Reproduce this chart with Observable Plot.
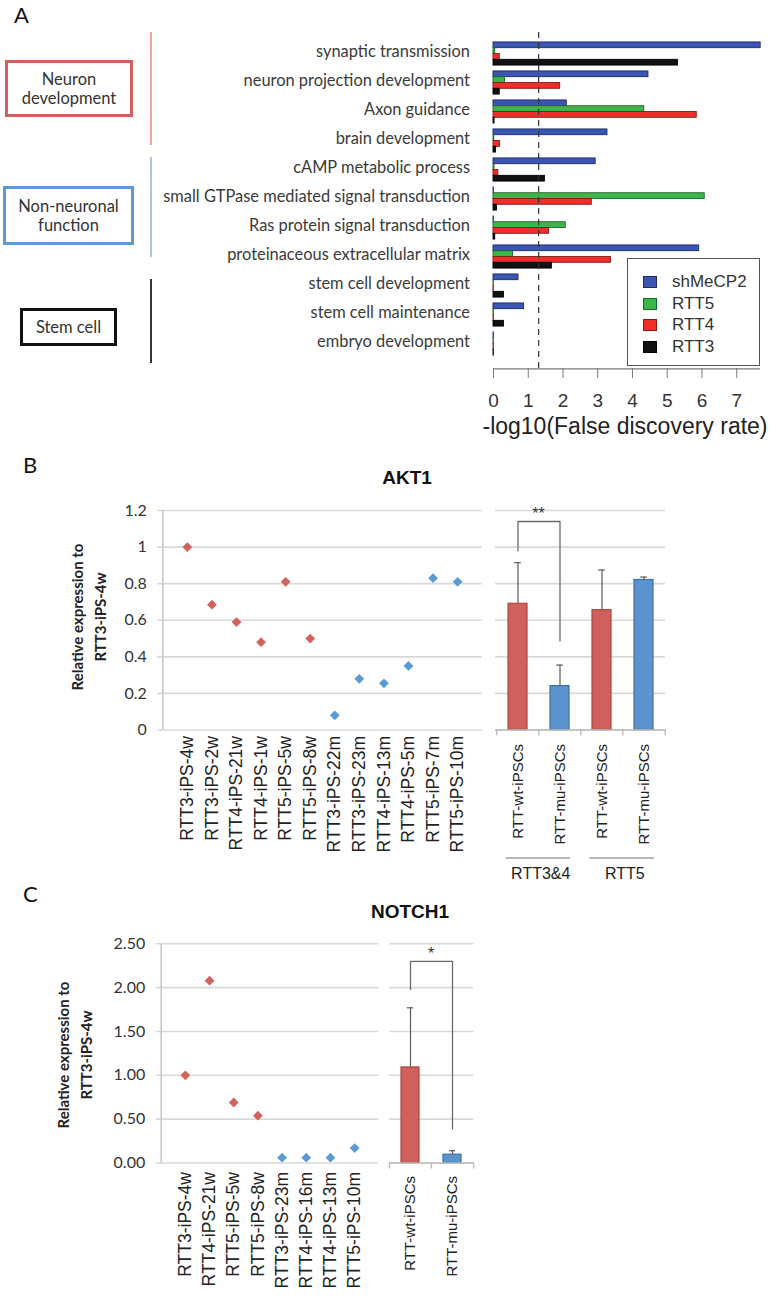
<!DOCTYPE html>
<html>
<head>
<meta charset="utf-8">
<script src="https://cdn.jsdelivr.net/npm/d3@7"></script>
<script src="https://cdn.jsdelivr.net/npm/@observablehq/plot@0.6"></script>
<style>
  html, body { margin: 0; padding: 0; background: white; }
  #root { position: relative; width: 772px; height: 1299px; overflow: hidden; background: white; font-family: Lato, "Open Sans", sans-serif; color: #222; }
  .abs { position: absolute; }
  .box { position: absolute; box-sizing: border-box; display: flex; align-items: center; justify-content: center; text-align: center; font-family: Lato, sans-serif; font-size: 16.5px; line-height: 19px; color: #333; background: white; }
  .vline { position: absolute; width: 2px; }
  .rot { position: absolute; transform: translate(-50%, -50%) rotate(-90deg); white-space: nowrap; text-align: center; font-family: Lato, sans-serif; font-weight: bold; font-size: 15px; line-height: 22.5px; color: #222; }
  .ctr { position: absolute; transform: translate(-50%, -50%); white-space: nowrap; }
</style>
</head>
<body>
<div id="root"></div>
<script>
// ---------------- Panel A data ----------------
const goCategories = [
  "synaptic transmission",
  "neuron projection development",
  "Axon guidance",
  "brain development",
  "cAMP metabolic process",
  "small GTPase mediated signal transduction",
  "Ras protein signal transduction",
  "proteinaceous extracellular matrix",
  "stem cell development",
  "stem cell maintenance",
  "embryo development"
];
const goSeries = ["shMeCP2", "RTT5", "RTT4", "RTT3"];
const shMeCP2 = [7.69, 4.46, 2.11, 3.28, 2.94, 0.01, 0.01, 5.92, 0.72, 0.88, 0.01];
const RTT5    = [0.05, 0.33, 4.34, 0.02, 0.03, 6.08, 2.08, 0.56, 0.01, 0.01, 0.01];
const RTT4    = [0.18, 1.92, 5.85, 0.19, 0.14, 2.83, 1.60, 3.38, 0.01, 0.01, 0.01];
const RTT3    = [5.31, 0.18, 0.03, 0.07, 1.48, 0.10, 0.05, 1.68, 0.30, 0.30, 0.01];
const fdrThreshold = 1.3;
const goTicks = [0, 1, 2, 3, 4, 5, 6, 7];
const seriesFill = ["#3b55b2", "#3cb54a", "#ec2f2a", "#111111"];
const seriesStroke = ["#1c2a6c", "#1b6a29", "#8a1814", "#000000"];

// ---------------- Panel B data ----------------
const akt1Samples = ["RTT3-iPS-4w","RTT3-iPS-2w","RTT4-iPS-21w","RTT4-iPS-1w","RTT5-iPS-5w","RTT5-iPS-8w",
                     "RTT3-iPS-22m","RTT3-iPS-23m","RTT4-iPS-13m","RTT4-iPS-5m","RTT5-iPS-7m","RTT5-iPS-10m"];
const akt1Values  = [1.00, 0.685, 0.59, 0.48, 0.81, 0.50, 0.08, 0.28, 0.255, 0.35, 0.83, 0.81];
const akt1Type    = ["wt","wt","wt","wt","wt","wt","mu","mu","mu","mu","mu","mu"];
const akt1Ticks   = [0, 0.2, 0.4, 0.6, 0.8, 1.0, 1.2];
const akt1BarLabels = ["RTT-wt-iPSCs","RTT-mu-iPSCs","RTT-wt-iPSCs","RTT-mu-iPSCs"];
const akt1BarGroups = ["RTT3&4","RTT3&4","RTT5","RTT5"];
const akt1BarType   = ["wt","mu","wt","mu"];
const akt1BarMeans  = [0.69, 0.24, 0.655, 0.82];
const akt1BarErrors = [0.225, 0.115, 0.22, 0.016];
const akt1Bracket = {left: 0, right: 1, top: 1.14, leftEnd: 0.98, rightEnd: 0.486, stars: "**"};

// ---------------- Panel C data ----------------
const notchSamples = ["RTT3-iPS-4w","RTT4-iPS-21w","RTT5-iPS-5w","RTT5-iPS-8w",
                      "RTT3-iPS-23m","RTT4-iPS-16m","RTT4-iPS-13m","RTT5-iPS-10m"];
const notchValues  = [1.00, 2.08, 0.69, 0.54, 0.06, 0.06, 0.06, 0.17];
const notchType    = ["wt","wt","wt","wt","mu","mu","mu","mu"];
const notchTicks   = [0, 0.5, 1.0, 1.5, 2.0, 2.5];
const notchBarLabels = ["RTT-wt-iPSCs","RTT-mu-iPSCs"];
const notchBarType   = ["wt","mu"];
const notchBarMeans  = [1.09, 0.095];
const notchBarErrors = [0.68, 0.045];
const notchBracket = {left: 0, right: 1, top: 2.30, leftEnd: 1.98, rightEnd: 0.39, stars: "*"};

// ---------------- styles ----------------
const dotColor = {wt: "#d1625d", mu: "#5b9bd5"};
const barFill = {wt: "#d0605b", mu: "#5b93cf"};
const barStroke = {wt: "#a94743", mu: "#3e6fa8"};
const gridColor = "#d9d9d9";
const inkColor = "#5a5a5a";
const arial = "'Liberation Sans', Arial, sans-serif";

const root = document.getElementById("root");
function place(el, left, top) {
  el.style.position = "absolute";
  el.style.left = left + "px";
  el.style.top = top + "px";
  root.appendChild(el);
  return el;
}
function html(str, cls, style) {
  const d = document.createElement("div");
  if (cls) d.className = cls;
  d.innerHTML = str;
  Object.assign(d.style, style || {});
  root.appendChild(d);
  return d;
}
const baseStyle = {background: "transparent", overflow: "visible"};

// ================= Panel A =================
{
  const W = 772, H = 445, mT = 32, mB = 445 - 368, mL = 493, mR = 8;
  const yRange = [38.2, 357.8];
  const step = (yRange[1] - yRange[0]) / goCategories.length;
  const barH = 5.8;
  const pad = (step - goSeries.length * barH) / 2;
  const seriesVals = [shMeCP2, RTT5, RTT4, RTT3];
  const rows = goSeries.map((s, k) => goCategories.map((c, i) => ({category: c, series: s, value: seriesVals[k][i]})));
  const p = Plot.plot({
    width: W, height: H, marginTop: mT, marginBottom: mB, marginLeft: mL, marginRight: mR,
    style: baseStyle,
    x: {domain: [0, 7.8]},
    y: {domain: goCategories, range: yRange, padding: 0},
    marks: [
      ...rows.map((data, k) => Plot.barX(data, {
        x: "value", y: "category",
        fill: seriesFill[k], stroke: seriesStroke[k], strokeWidth: 0.9,
        insetTop: pad + k * barH, insetBottom: step - pad - (k + 1) * barH
      })),
      Plot.ruleX([fdrThreshold], {stroke: "#333", strokeWidth: 1.2, strokeDasharray: "6,5"}),
      Plot.ruleY([0], {y: () => goCategories[goCategories.length - 1], dy: step / 2 + 10.4, stroke: "#7a7a7a", strokeWidth: 1.2, insetRight: 4}),
      Plot.axisX({ticks: goTicks, tickSize: 10, tickPadding: 15, fontSize: 19, fontFamily: arial, stroke: "#7a7a7a", fill: "#333", label: null}),
      Plot.axisY({tickSize: 0, tickPadding: 23.5, fontSize: 16.4, fontFamily: "Lato, sans-serif", fill: "#3a3a3a", dy: -2, label: null})
    ]
  });
  place(p, 0, 0);

  html("-log10(False discovery rate)", "ctr", {left: "625px", top: "426px", fontFamily: arial, fontSize: "23px", color: "#222"});

  // legend
  const lg = html("", "abs", {left: "627px", top: "258px", width: "133px", height: "108px", border: "1px solid #555", boxSizing: "border-box", background: "white"});
  goSeries.forEach((s, k) => {
    const row = document.createElement("div");
    Object.assign(row.style, {position: "absolute", left: "15px", top: (14 + k * 21.7) + "px", height: "18px", display: "flex", alignItems: "center", fontFamily: arial, fontSize: "17px", color: "#333"});
    const sw = document.createElement("span");
    Object.assign(sw.style, {display: "inline-block", width: "12px", height: "10px", background: seriesFill[k], border: "1px solid " + seriesStroke[k], marginRight: "15px"});
    row.appendChild(sw);
    row.appendChild(document.createTextNode(s));
    lg.appendChild(row);
  });

  // group boxes and brackets
  html("A", "abs", {left: "14px", top: "4px", fontFamily: "Lato, sans-serif", fontSize: "22px", lineHeight: "22px", color: "#111"});
  html("Neuron<br>development", "box", {left: "5px", top: "60px", width: "128px", height: "57px", border: "3px solid #d45d5d"});
  html("Non-neuronal<br>function", "box", {left: "3px", top: "186px", width: "131px", height: "59px", border: "3px solid #5b9bd5"});
  html("Stem cell", "box", {left: "20px", top: "308px", width: "97px", height: "38px", border: "3px solid #111"});
  html("", "vline", {left: "150px", top: "32px", height: "113px", background: "#eaa5a5"});
  html("", "vline", {left: "150px", top: "157px", height: "100px", background: "#a8c8e8"});
  html("", "vline", {left: "150px", top: "279px", height: "84px", background: "#333"});
}

// ================= generic scatter + bar builders =================
function scatterPanel({samples, values, types, ticks, fmt, domainMax, width, height, mT, mB, mL, mR, tickPad}) {
  const data = samples.map((s, i) => ({idx: i + 1, name: s, value: values[i], type: types[i]}));
  return Plot.plot({
    width, height, marginTop: mT, marginBottom: mB, marginLeft: mL, marginRight: mR,
    style: baseStyle,
    x: {domain: [0, samples.length + 1]},
    y: {domain: [0, domainMax]},
    marks: [
      Plot.ruleY(ticks, {stroke: gridColor, strokeWidth: 1.6, insetLeft: -5}),
      Plot.ruleX([0], {stroke: "#c8c8c8", strokeWidth: 1.6}),
      Plot.axisY({ticks, tickFormat: fmt, tickSize: 0, tickPadding: 16, fontSize: 16, fontFamily: "Lato, sans-serif", fill: "#333", label: null}),
      Plot.axisX({ticks: data.map(d => d.idx), tickFormat: i => samples[i - 1], tickRotate: -90, tickSize: 0, tickPadding: tickPad, fontSize: 17.5, fontFamily: arial, fill: "#222", label: null}),
      Plot.dot(data, {x: "idx", y: "value", symbol: "diamond2", r: 4.4, fill: d => dotColor[d.type], stroke: null})
    ]
  });
}

function barPanel({labels, groups, types, means, errors, bracket, ticks, domainMax, width, height, mT, mB, mL, mR, pIn, tickPad, groupInfo, left, top}) {
  const keys = labels.map((l, i) => (groups ? groups[i] : "") + "|" + l + "|" + i);
  const data = keys.map((k, i) => ({key: k, type: types[i], mean: means[i], err: errors[i]}));
  const n = keys.length;
  const step = (width - mL - mR) / n;
  const bw = step * (1 - pIn);
  const tickDown = -domainMax * 6 / (height - mT - mB); // 6px outward tick, in data units
  const bk = [
    {x: keys[bracket.left], y: bracket.leftEnd},
    {x: keys[bracket.left], y: bracket.top},
    {x: keys[bracket.right], y: bracket.top},
    {x: keys[bracket.right], y: bracket.rightEnd}
  ];
  const bounds = keys.map(k => ({key: k, side: -1})).concat([{key: keys[n - 1], side: 1}]);
  const marks = [
    Plot.ruleY(ticks, {stroke: gridColor, strokeWidth: 1.6}),
    Plot.ruleX(data, {x: "key", y1: "mean", y2: d => d.mean + d.err, stroke: inkColor, strokeWidth: 1.2}),
    Plot.tickY(data, {x: "key", y: d => d.mean + d.err, stroke: inkColor, strokeWidth: 1.2, inset: bw / 2 - 3.3}),
    Plot.barY(data, {x: "key", y: "mean", fill: d => barFill[d.type], stroke: d => barStroke[d.type], strokeWidth: 1.2}),
    Plot.line(bk, {x: "x", y: "y", stroke: "#6a6a6a", strokeWidth: 1.3}),
    Plot.ruleY([0], {stroke: "#bdbdbd", strokeWidth: 1.6}),
    Plot.ruleX(bounds.filter(b => b.side < 0), {x: "key", y1: () => 0, y2: () => tickDown, dx: -step / 2, stroke: "#bdbdbd", strokeWidth: 1.4}),
    Plot.ruleX(bounds.filter(b => b.side > 0), {x: "key", y1: () => 0, y2: () => tickDown, dx: step / 2, stroke: "#bdbdbd", strokeWidth: 1.4}),
    Plot.axisX({tickFormat: k => k.split("|")[1], tickRotate: -90, tickSize: 0, tickPadding: tickPad, fontSize: 15, fontFamily: arial, fill: "#222", label: null})
  ];
  if (groupInfo) {
    const gNames = Array.from(new Set(groups));
    const gs = gNames.map(g => ({name: g, first: keys[groups.indexOf(g)], last: keys[groups.lastIndexOf(g)], base: 0}));
    marks.push(
      Plot.ruleY(gs, {y: "base", x1: "first", x2: "last", dy: groupInfo.lineDy, insetLeft: -2.5, insetRight: -1, stroke: "#a0a0a0", strokeWidth: 1.6}),
      Plot.text(gs, {x: "first", y: "base", text: "name", dx: step / 2 + 1.5, dy: groupInfo.textDy, fontSize: 16, fontFamily: arial, fill: "#222"})
    );
  }
  const p = Plot.plot({
    width, height, marginTop: mT, marginBottom: mB, marginLeft: mL, marginRight: mR,
    style: baseStyle,
    x: {domain: keys, paddingInner: pIn, paddingOuter: pIn / 2},
    y: {domain: [0, domainMax], axis: null},
    marks
  });
  place(p, left, top);
  // significance stars, positioned through the plot's own scales
  const xs = p.scale("x"), ys = p.scale("y");
  const sx = left + (xs.apply(keys[bracket.left]) + xs.apply(keys[bracket.right])) / 2 + xs.bandwidth / 2;
  const sy = top + ys.apply(bracket.top) - 7;
  html(bracket.stars, "ctr", {left: sx + "px", top: sy + "px", fontFamily: arial, fontSize: "16px", color: "#333"});
  return p;
}

const fmtB = d => String(+d.toFixed(1));
const fmtC = d3.format(".2f");

// ================= Panel B =================
{
  html("B", "abs", {left: "23px", top: "454px", fontFamily: "Lato, sans-serif", fontSize: "22px", lineHeight: "22px", color: "#111"});
  html("AKT1", "ctr", {left: "407px", top: "478px", fontFamily: arial, fontWeight: "bold", fontSize: "19px", color: "#111"});
  const sp = scatterPanel({samples: akt1Samples, values: akt1Values, types: akt1Type, ticks: akt1Ticks, fmt: fmtB, domainMax: 1.2,
    width: 490, height: 400, mT: 30, mB: 150.5, mL: 162.3, mR: 8.3, tickPad: 6});
  place(sp, 0, 480);
  barPanel({labels: akt1BarLabels, groups: akt1BarGroups, types: akt1BarType, means: akt1BarMeans, errors: akt1BarErrors,
    bracket: akt1Bracket, ticks: akt1Ticks, domainMax: 1.2, width: 200, height: 400, mT: 30, mB: 150.5, mL: 8, mR: 22, pIn: 0.553,
    tickPad: 14, groupInfo: {lineDy: 128, textDy: 144}, left: 487, top: 480});
  html("Relative expression to<br>RTT3-iPS-4w", "rot", {left: "88px", top: "617px"});
}

// ================= Panel C =================
{
  html("C", "abs", {left: "23px", top: "883px", fontFamily: "Lato, sans-serif", fontSize: "22px", lineHeight: "22px", color: "#111"});
  html("NOTCH1", "ctr", {left: "410px", top: "912px", fontFamily: arial, fontWeight: "bold", fontSize: "19px", color: "#111"});
  const sp = scatterPanel({samples: notchSamples, values: notchValues, types: notchType, ticks: notchTicks, fmt: fmtC, domainMax: 2.5,
    width: 385, height: 399, mT: 43.3, mB: 136.5, mL: 160.7, mR: 6.7, tickPad: 9});
  place(sp, 0, 900);
  barPanel({labels: notchBarLabels, groups: null, types: notchBarType, means: notchBarMeans, errors: notchBarErrors,
    bracket: notchBracket, ticks: notchTicks, domainMax: 2.5, width: 110, height: 399, mT: 43.3, mB: 136.5, mL: 9, mR: 16.7, pIn: 0.566,
    tickPad: 13, groupInfo: null, left: 380, top: 900});
  html("Relative expression to<br>RTT3-iPS-4w", "rot", {left: "74px", top: "1055px"});
}
</script>
</body>
</html>
